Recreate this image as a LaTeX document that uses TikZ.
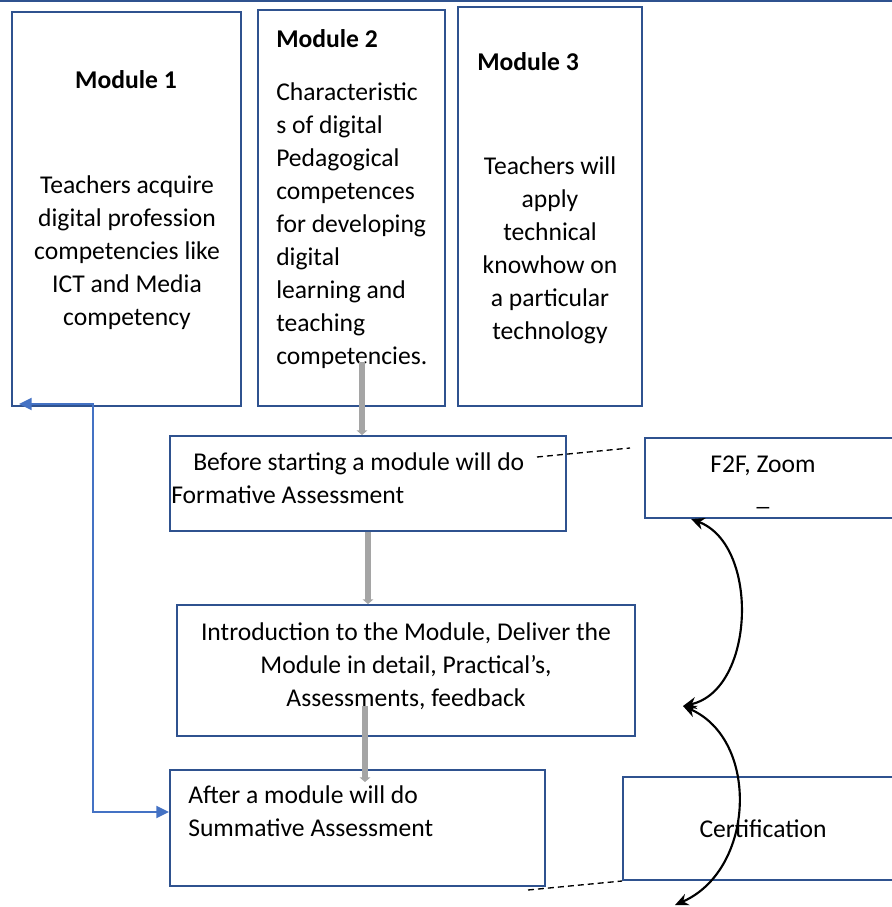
\documentclass[tikz,border=0pt]{standalone}
\usepackage{fontspec}
\setmainfont{Carlito}
\usetikzlibrary{fit,arrows.meta}
\definecolor{boxblue}{RGB}{47,82,143}
\definecolor{linkblue}{RGB}{68,114,196}
\definecolor{flowgray}{RGB}{165,165,165}
\begin{document}
\begin{tikzpicture}[x=0.75pt,y=-0.75pt,
  box/.style={draw=boxblue,line width=1.5pt,inner sep=0pt},
  txt/.style={inner sep=0pt,font=\fontsize{19.2}{24.75}\selectfont},
  ttl/.style={inner sep=0pt,font=\fontsize{19.2}{24.75}\selectfont\bfseries},
  grayflow/.style={draw=flowgray,line width=4.5pt,-{Triangle[length=3.5pt,width=8pt]}},
  bluelink/.style={draw=linkblue,line width=1.5pt,{Triangle[length=9.5pt,width=9pt]}-{Triangle[length=9.5pt,width=9pt]}},
  curvelink/.style={draw=black,line width=1.6pt,{Stealth[length=10pt,width=9pt]}-{Stealth[length=10pt,width=9pt]}},
  dashlink/.style={draw=black,line width=1pt,dash pattern=on 4.5pt off 3pt}]
\useasboundingbox (0,0) rectangle (892,907);
\draw[boxblue,line width=1.5pt] (0,1) -- (892,1);
% boxes
\node[box,fit={(12,12)(241,406)}] (m1) {};
\node[box,fit={(258,10)(445,406)}] (m2) {};
\node[box,fit={(458,7)(642,406)}] (m3) {};
\node[box,fit={(170,436)(566,531)}] (bef) {};
\node[box,fit={(645,438)(896,518)}] (f2f) {};
\node[box,fit={(177,605)(635,736)}] (intro) {};
\node[box,fit={(170,770)(545,886)}] (aft) {};
\node[box,fit={(623,777)(896,880)}] (cert) {};
% texts (multi-line nodes anchored at the baseline of their last line)
\node[ttl,anchor=base] (t1) at (126,88) {Module 1};
\node[txt,align=center,anchor=base] (x1) at (127,325) {Teachers acquire\\digital profession\\competencies like\\ICT and Media\\competency};
\node[ttl,anchor=base west] (t2) at (276,47) {Module 2};
\node[txt,align=left,anchor=base west] (x2) at (276,364) {Characteristic\\s of digital\\Pedagogical\\competences\\for developing\\digital\\learning and\\teaching\\competencies.};
\node[ttl,anchor=base west] (t3) at (477,70) {Module 3};
\node[txt,align=center,anchor=base] (x3) at (550,339) {Teachers will\\apply\\technical\\knowhow on\\a particular\\technology};
\node[txt,align=left,anchor=base west] (xb) at (171,503) {\hspace*{16.5pt}Before starting a module will do\\Formative Assessment};
\node[txt,align=center,anchor=base] (xf) at (763,505) {F2F, Zoom\\\_};
\node[txt,align=center,anchor=base] (xi) at (406,706) {Introduction to the Module, Deliver the\\Module in detail, Practical’s,\hspace*{12pt}\\Assessments, feedback};
\node[txt,align=left,anchor=base west] (xa) at (188,836) {After a module will do\\Summative Assessment};
\node[txt,anchor=base] (xc) at (763,837) {Certification};
% connector points
\coordinate (g1s) at (362,362);
\coordinate (g3s) at (365,706);
\coordinate (g3e) at (365,782);
\coordinate (d1s) at (537,457);
\coordinate (d1e) at (630,448);
\coordinate (d2s) at (528,890);
\coordinate (c1e) at (683,706);
\coordinate (c2e) at (675,905);
% gray flow arrows
\draw[grayflow] (g1s) -- (g1s |- bef.north);
\draw[grayflow] (bef.south -| 368,0) -- (intro.north -| 368,0);
\draw[grayflow] (g3s) -- (g3e);
% blue link
\draw[bluelink] ([shift={(8,-3)}]m1.south west) -- ([shift={(82,-3)}]m1.south west) |- ([yshift=12pt]aft.west);
% dashed
\draw[dashlink] (d1s) -- (d1e);
\draw[dashlink] (d2s) -- (cert.south west);
% curved arrows
\draw[curvelink] ([xshift=47*0.75pt]f2f.south west) .. controls (760,545) and (755,690) .. (c1e);
\draw[curvelink] (c1e) .. controls (760,740) and (755,870) .. (c2e);
\end{tikzpicture}
\end{document}
